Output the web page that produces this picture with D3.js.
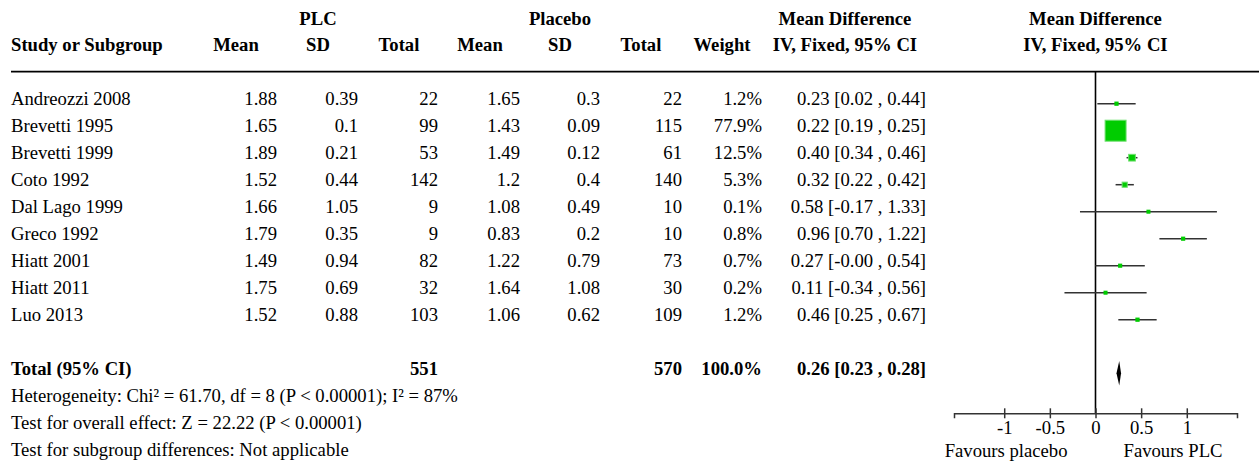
<!DOCTYPE html>
<html>
<head>
<meta charset="utf-8">
<script src="https://cdn.jsdelivr.net/npm/d3@7"></script>
<style>
  html, body { margin: 0; padding: 0; background: #fff; }
  svg { display: block; }
  text { font-family: "Liberation Serif", "Times New Roman", serif; font-size: 18.67px; fill: #000; }
  .b { font-weight: bold; }
</style>
</head>
<body>
<svg id="chart" width="1259" height="462"></svg>
<script>
// Studies and their arm summaries
const studies    = ["Andreozzi 2008", "Brevetti 1995", "Brevetti 1999", "Coto 1992", "Dal Lago 1999", "Greco 1992", "Hiatt 2001", "Hiatt 2011", "Luo 2013"];
const plcMean    = [1.88, 1.65, 1.89, 1.52, 1.66, 1.79, 1.49, 1.75, 1.52];
const plcSD      = [0.39, 0.1, 0.21, 0.44, 1.05, 0.35, 0.94, 0.69, 0.88];
const plcTotal   = [22, 99, 53, 142, 9, 9, 82, 32, 103];
const plaMean    = [1.65, 1.43, 1.49, 1.2, 1.08, 0.83, 1.22, 1.64, 1.06];
const plaSD      = [0.3, 0.09, 0.12, 0.4, 0.49, 0.2, 0.79, 1.08, 0.62];
const plaTotal   = [22, 115, 61, 140, 10, 10, 73, 30, 109];
const weights    = [1.2, 77.9, 12.5, 5.3, 0.1, 0.8, 0.7, 0.2, 1.2];
const md         = [0.23, 0.22, 0.40, 0.32, 0.58, 0.96, 0.27, 0.11, 0.46];
const ciLow      = [0.02, 0.19, 0.34, 0.22, -0.17, 0.70, -0.002, -0.34, 0.25];
const ciHigh     = [0.44, 0.25, 0.46, 0.42, 1.33, 1.22, 0.54, 0.56, 0.67];

// Pooled estimate
const pooledPlcTotal = 551;
const pooledPlaTotal = 570;
const pooledWeight = 100.0;
const pooledMD = 0.26, pooledLow = 0.23, pooledHigh = 0.28;

const tickValues = [-1, -0.5, 0, 0.5, 1];
const tickLabels = ["-1", "-0.5", "0", "0.5", "1"];
const footnotes = [
  "Heterogeneity: Chi² = 61.70, df = 8 (P < 0.00001); I² = 87%",
  "Test for overall effect: Z = 22.22 (P < 0.00001)",
  "Test for subgroup differences: Not applicable"
];

const svg = d3.select("#chart");

// Layout
const row0 = 105, rowH = 27;
const rowY = i => row0 + i * rowH;
const totalY = rowY(10);
const headerLineY = 71.7;
const axisY = 413.3;

const x = d3.scaleLinear().domain([-1.55, 1.55]).range([954, 1237]);
const size = d3.scaleLinear().domain([0, 100]).range([4, 25.8]);

const fmt2 = v => v.toFixed(2);
const ciText = (m, lo, hi) => `${fmt2(m)} [${fmt2(lo)} , ${fmt2(hi)}]`;

// Column right edges
const cols = [
  { x: 277, get: i => String(plcMean[i]) },
  { x: 358, get: i => String(plcSD[i]) },
  { x: 438, get: i => String(plcTotal[i]) },
  { x: 520, get: i => String(plaMean[i]) },
  { x: 600, get: i => String(plaSD[i]) },
  { x: 682, get: i => String(plaTotal[i]) },
  { x: 762, get: i => weights[i].toFixed(1) + "%" },
  { x: 926, get: i => ciText(md[i], ciLow[i], ciHigh[i]) }
];

// Headers
const header = svg.append("g").attr("class", "b");
const addText = (g, tx, ty, str, anchor) =>
  g.append("text").attr("x", tx).attr("y", ty).attr("text-anchor", anchor || "start").text(str);

addText(header, 318, 25, "PLC", "middle");
addText(header, 560, 25, "Placebo", "middle");
addText(header, 845, 25, "Mean Difference", "middle");
addText(header, x(0), 25, "Mean Difference", "middle");
addText(header, 11, 51, "Study or Subgroup");
[["Mean", 236], ["SD", 318], ["Total", 399], ["Mean", 480], ["SD", 560], ["Total", 641], ["Weight", 722]]
  .forEach(([s, cx]) => addText(header, cx, 51, s, "middle"));
addText(header, 845, 51, "IV, Fixed, 95% CI", "middle");
addText(header, x(0), 51, "IV, Fixed, 95% CI", "middle");

svg.append("line")
  .attr("x1", 11).attr("x2", 1259)
  .attr("y1", headerLineY).attr("y2", headerLineY)
  .attr("stroke", "#000").attr("stroke-width", 1.7);

// Study rows
const rows = svg.append("g");
studies.forEach((s, i) => {
  addText(rows, 11, rowY(i), s);
  cols.forEach(c => addText(rows, c.x, rowY(i), c.get(i), "end"));
});

// Total row
const tot = svg.append("g").attr("class", "b");
addText(tot, 11, totalY, "Total (95% CI)");
addText(tot, 438, totalY, String(pooledPlcTotal), "end");
addText(tot, 682, totalY, String(pooledPlaTotal), "end");
addText(tot, 762, totalY, pooledWeight.toFixed(1) + "%", "end");
addText(tot, 926, totalY, ciText(pooledMD, pooledLow, pooledHigh), "end");

// Footnotes
footnotes.forEach((f, k) => addText(svg, 11, totalY + rowH * (k + 1) - 0.5, f));

// Forest plot: zero line
svg.append("line")
  .attr("x1", x(0)).attr("x2", x(0))
  .attr("y1", headerLineY).attr("y2", axisY)
  .attr("stroke", "#000").attr("stroke-width", 1.6);

// Confidence intervals and weighted squares
const plot = svg.append("g");
const my = i => rowY(i) - 1.3;
plot.selectAll("line.ci").data(studies).join("line")
  .attr("class", "ci")
  .attr("x1", (d, i) => x(ciLow[i])).attr("x2", (d, i) => x(ciHigh[i]))
  .attr("y1", (d, i) => my(i)).attr("y2", (d, i) => my(i))
  .attr("stroke", "#333").attr("stroke-width", 1.5);
plot.selectAll("rect.sq").data(studies).join("rect")
  .attr("class", "sq")
  .attr("x", (d, i) => x(md[i]) - size(weights[i]) / 2)
  .attr("y", (d, i) => my(i) - size(weights[i]) / 2)
  .attr("width", (d, i) => size(weights[i]))
  .attr("height", (d, i) => size(weights[i]))
  .attr("fill", "#00cc00")
  .attr("stroke", (d, i) => weights[i] > 3 ? "#6ee06e" : "none")
  .attr("stroke-width", 1);

// Pooled diamond
const dy = totalY - 1.7, dh = 12.3;
plot.append("path")
  .attr("d", `M${x(pooledLow)},${dy}L${x(pooledMD)},${dy - dh}L${x(pooledHigh)},${dy}L${x(pooledMD)},${dy + dh}Z`)
  .attr("fill", "#000");

// Axis
const axis = svg.append("g")
  .attr("transform", `translate(0,${axisY})`)
  .call(d3.axisBottom(x).tickValues(tickValues).tickFormat((d, i) => tickLabels[i]).tickSizeOuter(0).tickSize(5));
axis.select(".domain").attr("stroke", "#333").attr("stroke-width", 1.5);
axis.selectAll(".tick line").attr("y1", -5).attr("y2", 5).attr("stroke", "#333").attr("stroke-width", 1.5);
axis.selectAll(".tick text")
  .attr("y", 20.7).attr("dy", null)
  .attr("font-family", null).attr("font-size", null)
  .attr("fill", "#000");
axis.attr("font-family", null).attr("font-size", null);

addText(svg, x(0) - 28, 456.7, "Favours placebo", "end");
addText(svg, x(0) + 28, 456.7, "Favours PLC", "start");
</script>
</body>
</html>
